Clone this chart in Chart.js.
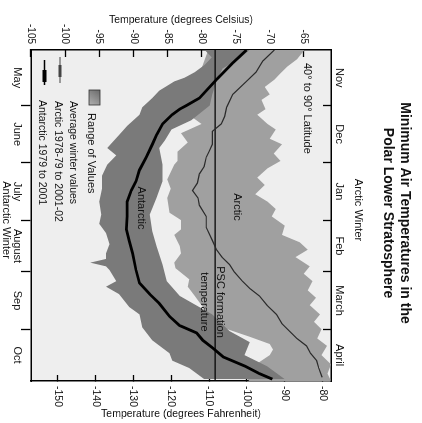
<!DOCTYPE html>
<html>
<head>
<meta charset="utf-8">
<script src="https://cdn.jsdelivr.net/npm/chart.js@4.4.1/dist/chart.umd.min.js"></script>
<style>
  html, body { margin: 0; padding: 0; background: #fff; overflow: hidden; }
  /* the chart is drawn upright and then turned a quarter clockwise, like the scan */
  #wrap { position: absolute; left: 0; top: 0; width: 423px; height: 422px;
          transform-origin: 0 0; transform: translate(422px, 0) rotate(90deg); }
</style>
</head>
<body>
<div id="wrap"><canvas id="chart" width="423" height="422"></canvas></div>
<script>
// days counted from Nov 1 (Arctic) / May 1 (Antarctic)
const monthEdges = [30, 61, 92, 120, 151];
const monthMids = [15, 45.5, 76.5, 106, 135.5, 165];
const arcticMonths = ['Nov', 'Dec', 'Jan', 'Feb', 'March', 'April'];
const antarcticMonths = ['May', 'June', 'July', 'August', 'Sep', 'Oct'];

const celsiusTicks = [-105, -100, -95, -90, -85, -80, -75, -70, -65];
const fahrenheitTicks = [-150, -140, -130, -120, -110, -100, -90, -80];
const pscTemp = -78;

// average winter values
const arcticAvgDays = [0, 6, 12, 17, 24, 31, 36, 40, 44, 51, 55, 58, 63, 67, 72, 76, 80, 84, 90, 96, 103, 108, 112, 116, 120, 125, 129, 133, 138, 143, 148, 152, 156, 160, 164, 168, 172, 177];
const arcticAvgTemps = [-69.3, -71.0, -72.0, -73.4, -75.4, -76.3, -76.6, -77.1, -78.4, -78.4, -78.9, -79.3, -79.6, -80.3, -80.6, -81.3, -80.5, -80.3, -79.3, -79.3, -78.4, -77.8, -77.0, -75.9, -75.2, -74.0, -72.9, -71.5, -70.4, -69.0, -68.2, -67.1, -66.0, -64.6, -64.0, -63.1, -62.8, -62.3];

const antarcticAvgDays = [0, 7, 16, 26, 30, 32, 35, 40, 46, 51, 58, 65, 71, 76, 82, 90, 97, 103, 110, 119, 126, 132, 137, 144, 149, 153, 157, 161, 166, 171, 175, 178];
const antarcticAvgTemps = [-73.4, -75.4, -77.8, -80.3, -82.2, -83.2, -84.3, -85.7, -86.6, -87.2, -88.1, -89.1, -89.6, -90.3, -90.9, -90.9, -91.0, -90.6, -90.1, -89.6, -89.1, -87.6, -86.2, -84.7, -83.2, -80.7, -79.8, -78.4, -76.8, -73.6, -71.5, -69.6];

// range of values
const arcticMaxDays = [0, 5, 9, 13, 16, 20, 24, 27, 32, 35, 40, 43, 48, 51, 56, 60, 64, 69, 73, 78, 82, 86, 90, 95, 100, 104, 108, 112, 117, 121, 125, 130, 134, 138, 143, 147, 151, 156, 160, 165, 170, 175, 179];
const arcticMaxTemps = [-64.9, -66.0, -67.4, -68.5, -69.3, -70.7, -70.0, -71.2, -70.6, -71.8, -70.3, -69.1, -70.0, -68.2, -69.4, -68.4, -70.3, -71.8, -70.7, -72.1, -70.3, -69.1, -69.7, -67.8, -68.2, -65.6, -64.4, -66.2, -64.1, -65.0, -63.7, -64.4, -63.2, -64.1, -62.6, -63.5, -62.4, -63.0, -61.6, -62.4, -61.0, -61.5, -61.0];

const arcticMinDays = [0, 10, 20, 30, 36, 40, 45, 50, 55, 60, 62, 70, 75, 80, 88, 92, 97, 100, 106, 110, 115, 118, 124, 128, 133, 138, 143, 150, 155, 159, 162, 165, 170, 175, 179];
const arcticMinTemps = [-79, -80, -81, -82.5, -81.5, -80, -83, -82, -83.5, -83.5, -84, -85, -84.5, -85, -84.7, -83, -83, -84, -83.2, -83, -84, -83.8, -81.8, -82, -81, -80, -79, -77, -73, -70, -69.5, -70, -72, -74, -73];

const antarcticMaxDays = [0, 5, 10, 17, 24, 30, 38, 43, 49, 53, 62, 71, 80, 89, 98, 106, 116, 125, 133, 143, 152, 158, 165, 171, 178];
const antarcticMaxTemps = [-73.0, -74.5, -76.9, -77.8, -78.4, -78.8, -81.5, -84.4, -85.4, -86.2, -85.7, -85.7, -86.6, -87.6, -87.2, -86.6, -85.7, -85.1, -83.2, -78.4, -75.9, -72.9, -73.7, -70.4, -67.8];

const antarcticMinDays = [0, 4, 8, 12, 15, 17, 22, 26, 31, 35, 41, 46, 50, 53, 57, 62, 68, 75, 82, 89, 94, 99, 105, 110, 113, 115, 117, 119, 125, 128, 132, 139, 143, 150, 157, 164, 168, 172, 178];
const antarcticMinTemps = [-79.5, -78.5, -79.5, -81, -82.5, -84, -86.2, -87.2, -88.7, -89.1, -90.9, -92.1, -93.1, -93.8, -92.5, -93.8, -94.6, -94.6, -95.0, -94.7, -95.0, -94.0, -93.5, -94.0, -94.0, -96.3, -94.0, -93.5, -92.5, -94.0, -92.1, -90.6, -89.1, -88.7, -87.2, -84.7, -84.3, -81.8, -79.6];

function pts(days, temps) {
    return days.map((d, i) => ({x: d, y: temps[i]}));
}

Chart.defaults.font.family = '"Liberation Sans", Arial, sans-serif';
Chart.defaults.color = '#111';

const FONT = '"Liberation Sans", Arial, sans-serif';
const bandDark = '#7a7a7a';
const bandLight = '#a0a0a0';
const noLine = 'rgba(0,0,0,0)';

function monthAxis(position, names, tickLength, padding) {
    return {
        type: 'linear',
        position: position,
        min: 0,
        max: 179,
        afterBuildTicks: s => { s.ticks = monthEdges.concat(monthMids).map(v => ({value: v})); },
        afterFit: s => { s.height = position === 'top' ? 91 : 31; },
        ticks: {
            autoSkip: false,
            maxRotation: 0,
            padding: padding,
            font: {size: 11},
            callback: v => { const i = monthMids.indexOf(v); return i >= 0 ? names[i] : ''; }
        },
        grid: {
            drawOnChartArea: false,
            tickLength: tickLength,
            tickWidth: 1.3,
            tickColor: c => monthEdges.includes(c.tick.value) ? '#000' : noLine
        },
        border: {display: true, color: '#000', width: 1.5}
    };
}

const plotBackground = {
    id: 'plotBackground',
    beforeDraw(chart) {
        const {ctx, chartArea: a} = chart;
        ctx.save();
        ctx.fillStyle = '#eeeeee';
        ctx.fillRect(a.left, a.top, a.width, a.height);
        ctx.restore();
    }
};

function text(ctx, str, x, y, size, opts) {
    opts = opts || {};
    ctx.save();
    ctx.font = (opts.bold ? 'bold ' : '') + size + 'px ' + FONT;
    ctx.fillStyle = '#111';
    ctx.textAlign = opts.align || 'center';
    ctx.textBaseline = 'middle';
    ctx.translate(x, y);
    if (opts.rot) ctx.rotate(opts.rot);
    ctx.fillText(str, 0, 0);
    ctx.restore();
}

const labels = {
    id: 'labels',
    afterDraw(chart) {
        const ctx = chart.ctx;
        // titles
        text(ctx, 'Minimum Air Temperatures in the', 213, 17, 14, {bold: true});
        text(ctx, 'Polar Lower Stratosphere', 213, 34, 14, {bold: true});
        text(ctx, 'Arctic Winter', 210, 64, 11);
        text(ctx, 'Antarctic Winter', 220, 416, 11);
        text(ctx, 'Temperature (degrees Fahrenheit)', 414, 241, 10.5, {rot: -Math.PI / 2});

        // notes in the plot
        text(ctx, '40\u00b0 to 90\u00b0 Latitude', 63, 115, 11, {align: 'left'});
        text(ctx, 'Arctic', 207, 185, 11);
        text(ctx, 'Antarctic', 208, 281, 11);
        text(ctx, 'PSC formation', 302, 202, 11);
        text(ctx, 'temperature', 302, 218, 11);

        // key
        ctx.save();
        const g = ctx.createLinearGradient(90, 322, 105, 333);
        g.addColorStop(0, '#6a6a6a');
        g.addColorStop(1, '#b0b0b0');
        ctx.fillStyle = g;
        ctx.fillRect(90, 322, 15, 11);
        ctx.strokeStyle = '#333';
        ctx.lineWidth = 0.8;
        ctx.strokeRect(90, 322, 15, 11);
        ctx.lineCap = 'butt';
        ctx.strokeStyle = '#444';
        ctx.lineWidth = 1;
        ctx.beginPath(); ctx.moveTo(57, 362); ctx.lineTo(83, 362); ctx.stroke();
        ctx.lineWidth = 3;
        ctx.beginPath(); ctx.moveTo(65, 362); ctx.lineTo(77, 362); ctx.stroke();
        ctx.strokeStyle = '#000';
        ctx.lineWidth = 1.5;
        ctx.beginPath(); ctx.moveTo(60, 377.5); ctx.lineTo(85, 377.5); ctx.stroke();
        ctx.lineWidth = 4;
        ctx.beginPath(); ctx.moveTo(70, 377.5); ctx.lineTo(82, 377.5); ctx.stroke();
        ctx.restore();
        text(ctx, 'Range of Values', 113, 331, 11, {align: 'left'});
        text(ctx, 'Average winter values', 101, 349, 10.5, {align: 'left'});
        text(ctx, 'Arctic 1978-79 to 2001-02', 101, 364, 10.5, {align: 'left'});
        text(ctx, 'Antarctic 1979 to 2001', 100, 380, 10.5, {align: 'left'});
    }
};

new Chart(document.getElementById('chart'), {
    type: 'line',
    data: {
        datasets: [
            {data: pts(antarcticAvgDays, antarcticAvgTemps), borderColor: '#000', borderWidth: 2.8, fill: false},
            {data: pts(arcticAvgDays, arcticAvgTemps), borderColor: '#2a2a2a', borderWidth: 1.2, fill: false},
            {data: [{x: 0, y: pscTemp}, {x: 179, y: pscTemp}], borderColor: '#000', borderWidth: 1.4, fill: false},
            {data: pts(antarcticMaxDays, antarcticMaxTemps), borderColor: noLine, borderWidth: 0, backgroundColor: bandDark, fill: '+1'},
            {data: pts(antarcticMinDays, antarcticMinTemps), borderColor: noLine, borderWidth: 0, fill: false},
            {data: pts(arcticMaxDays, arcticMaxTemps), borderColor: noLine, borderWidth: 0, backgroundColor: bandLight, fill: '+1'},
            {data: pts(arcticMinDays, arcticMinTemps), borderColor: noLine, borderWidth: 0, fill: false}
        ]
    },
    options: {
        responsive: false,
        animation: false,
        devicePixelRatio: 1,
        layout: {padding: 0},
        elements: {point: {radius: 0}, line: {tension: 0}},
        plugins: {legend: {display: false}, tooltip: {enabled: false}},
        scales: {
            x: monthAxis('top', arcticMonths, -8, 9.5),
            x2: monthAxis('bottom', antarcticMonths, 10, -3),
            y: {
                type: 'linear',
                position: 'left',
                min: -105,
                max: -61,
                afterBuildTicks: s => { s.ticks = celsiusTicks.map(v => ({value: v})); },
                afterFit: s => { s.width = 50; },
                ticks: {padding: 13, font: {size: 10}},
                grid: {drawOnChartArea: false, tickLength: -7, tickWidth: 1.3, tickColor: '#000'},
                border: {display: true, color: '#000', width: 1.5},
                title: {display: true, text: 'Temperature (degrees Celsius)', font: {size: 10.5}, padding: {top: 13.5, bottom: 0}}
            },
            y2: {
                type: 'linear',
                position: 'right',
                min: -105 * 1.8 + 32,
                max: -61 * 1.8 + 32,
                afterBuildTicks: s => { s.ticks = fahrenheitTicks.map(v => ({value: v})); },
                afterFit: s => { s.width = 42; },
                ticks: {padding: 11, font: {size: 10.5}},
                grid: {drawOnChartArea: false, tickLength: -6, tickWidth: 1.3, tickColor: '#000'},
                border: {display: true, color: '#000', width: 1.5}
            }
        }
    },
    plugins: [plotBackground, labels]
});
</script>
</body>
</html>
